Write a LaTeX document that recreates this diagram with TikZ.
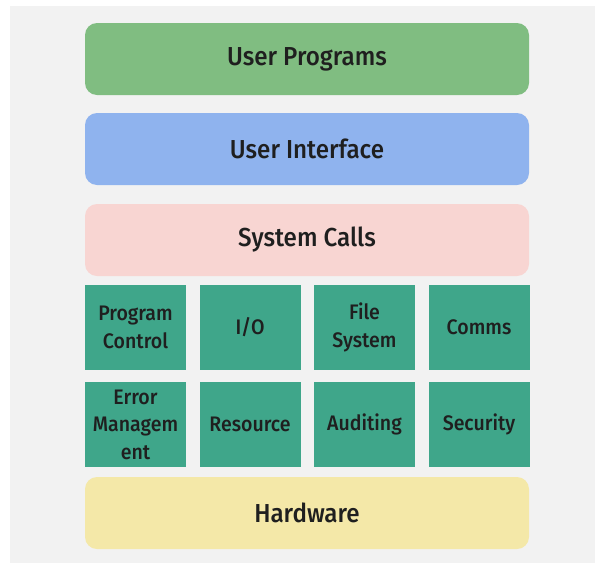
\documentclass[tikz,border=0pt]{standalone}
\usepackage{fontspec}
\setmainfont{Fira Sans}
\newfontfamily\labelfont[FakeStretch=0.93]{Fira Sans Medium}
\begin{document}
\begin{tikzpicture}[x=1pt,y=-1pt,
  layer/.style={draw=none,rounded corners=12pt,minimum width=444pt,minimum height=72pt,
    font=\labelfont\fontsize{26}{30}\selectfont,text=black!88,inner sep=0pt},
  service/.style={draw=none,fill=svcteal,minimum width=101pt,minimum height=85pt,
    font=\labelfont\fontsize{21}{27.5}\selectfont,text=black!88,align=center,inner sep=0pt}]
\definecolor{bggray}{HTML}{F2F2F2}
\definecolor{progreen}{HTML}{80BD81}
\definecolor{uiblue}{HTML}{8FB3EE}
\definecolor{callpink}{HTML}{F8D5D2}
\definecolor{svcteal}{HTML}{3FA68A}
\definecolor{hwyellow}{HTML}{F4E8A8}
% page and backdrop
\fill[white] (0,0) rectangle (595,563);
\fill[bggray] (10,6) rectangle (595,563);
\useasboundingbox (0,0) rectangle (595,563);
% horizontal layers
\node[layer,fill=progreen] (prog) at (307,59) {User Programs};
\node[layer,fill=uiblue] (ui) at (307,149) {User Interface};
\node[layer,fill=callpink] (calls) at (307,240) {System Calls};
% service blocks
\node[service] (pc) at (135.5,327.5) {Program\\Control};
\node[service] (io) at (250,327.5) {I/O};
\node[service] (fs) at (364.5,327.5) {File\\System};
\node[service] (comms) at (479,327.5) {Comms};
\node[service] (err) at (135.5,424.5) {Error\\Managem\\ent};
\node[service] (res) at (250,424.5) {Resource};
\node[service] (aud) at (364.5,424.5) {Auditing};
\node[service] (sec) at (479,424.5) {Security};
% bottom layer
\node[layer,fill=hwyellow] (hw) at (307,513) {Hardware};
\end{tikzpicture}
\end{document}
